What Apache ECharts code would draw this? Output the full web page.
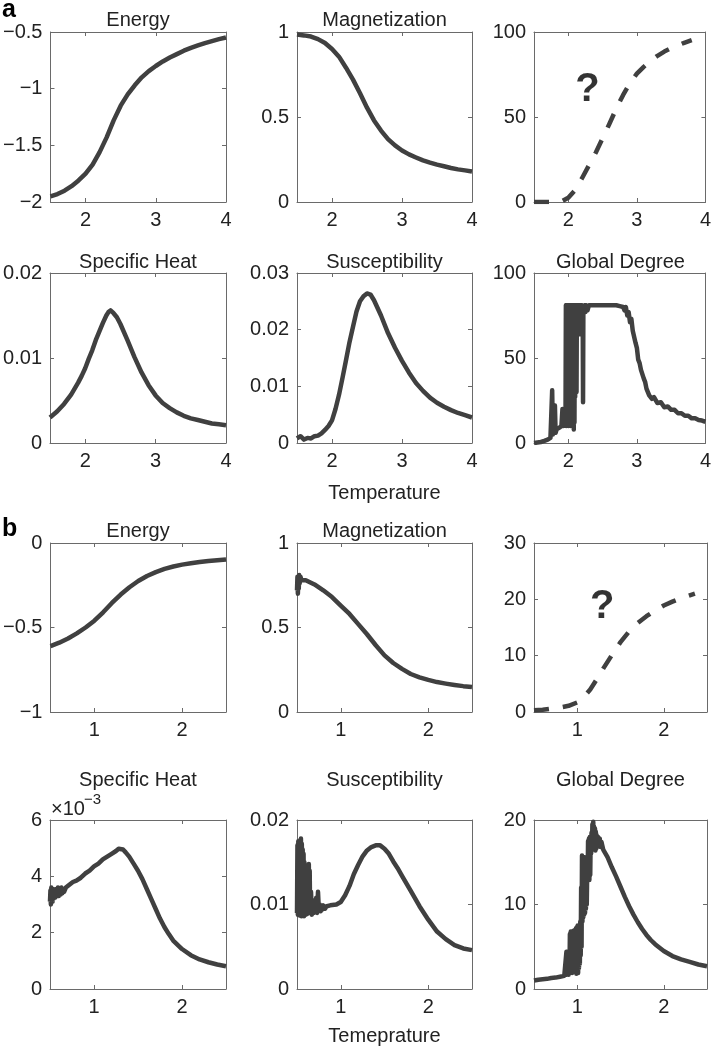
<!DOCTYPE html>
<html><head><meta charset="utf-8">
<script src="https://cdn.jsdelivr.net/npm/echarts@6/dist/echarts.min.js"></script>
<style>html,body{margin:0;padding:0;background:#fff}#c{width:714px;height:1050px}</style>
</head><body><div id="c"></div>
<script>
// ---------------- DATA ----------------
const ticksTa = [2, 3, 4];
const ticksTb = [1, 2];

const aEnergy = [[1.5,-1.95],[1.6,-1.93],[1.7,-1.90],[1.8,-1.86],[1.9,-1.81],[2.0,-1.75],[2.1,-1.67],[2.2,-1.56],[2.3,-1.43],[2.4,-1.28],[2.5,-1.15],[2.6,-1.05],[2.7,-0.97],[2.8,-0.90],[2.9,-0.845],[3.0,-0.80],[3.1,-0.76],[3.2,-0.725],[3.3,-0.695],[3.4,-0.665],[3.5,-0.64],[3.6,-0.618],[3.7,-0.598],[3.8,-0.58],[3.9,-0.563],[4.0,-0.548]];
const aEnergyTicks = [-2, -1.5, -1, -0.5];

const aMag = [[1.5,0.985],[1.6,0.98],[1.7,0.973],[1.8,0.958],[1.9,0.935],[2.0,0.90],[2.1,0.855],[2.2,0.79],[2.3,0.72],[2.4,0.64],[2.5,0.555],[2.6,0.48],[2.7,0.42],[2.8,0.37],[2.9,0.333],[3.0,0.303],[3.1,0.28],[3.2,0.262],[3.3,0.245],[3.4,0.232],[3.5,0.22],[3.6,0.21],[3.7,0.2],[3.8,0.192],[3.9,0.186],[4.0,0.18]];
const aMagTicks = [0, 0.5, 1];

const aUnknown = [[1.5,0],[1.6,0],[1.7,0],[1.8,0],[1.9,0.3],[2.0,2.5],[2.1,7],[2.2,14],[2.3,21.5],[2.4,29],[2.5,37.5],[2.6,46],[2.7,55],[2.8,63],[2.9,70],[3.0,75.5],[3.1,79.5],[3.2,83],[3.3,86],[3.4,88.5],[3.5,90.5],[3.6,92.2],[3.7,93.8],[3.8,95.2]];
const aUnknownTicks = [0, 50, 100];
const aUnknownMark = [[2.28, 66]];

const aHeat = [[1.5,0.0030],[1.6,0.0037],[1.7,0.0046],[1.8,0.0057],[1.9,0.0071],[1.95,0.0079],[2.0,0.0088],[2.05,0.0099],[2.1,0.0109],[2.15,0.0121],[2.2,0.0131],[2.25,0.0141],[2.3,0.0150],[2.33,0.0154],[2.36,0.0156],[2.4,0.0153],[2.45,0.0148],[2.5,0.0140],[2.6,0.0121],[2.7,0.0101],[2.8,0.0083],[2.9,0.0068],[3.0,0.0056],[3.1,0.0047],[3.2,0.0041],[3.3,0.0036],[3.4,0.0032],[3.5,0.0029],[3.6,0.0027],[3.7,0.0025],[3.8,0.0023],[3.9,0.0022],[4.0,0.0021]];
const aHeatTicks = [0, 0.01, 0.02];

const aSusc = [[1.5,0.0008],[1.55,0.0012],[1.6,0.0006],[1.65,0.0009],[1.7,0.0008],[1.75,0.0012],[1.8,0.0013],[1.85,0.0017],[1.9,0.0023],[1.95,0.0030],[2.0,0.0040],[2.05,0.0060],[2.1,0.0085],[2.15,0.0115],[2.2,0.0146],[2.25,0.0178],[2.3,0.0205],[2.35,0.0232],[2.4,0.0250],[2.45,0.0259],[2.5,0.0264],[2.55,0.0262],[2.6,0.0252],[2.7,0.0225],[2.8,0.0194],[2.9,0.0168],[3.0,0.0145],[3.1,0.0124],[3.2,0.0106],[3.3,0.0092],[3.4,0.0080],[3.5,0.0071],[3.6,0.0064],[3.7,0.0058],[3.8,0.0053],[3.9,0.0049],[4.0,0.0045]];
const aSuscTicks = [0, 0.01, 0.02, 0.03];

const aDegree = [[1.5,0],[1.55,0.3],[1.6,0.6],[1.65,1.2],[1.7,2],[1.74,3],[1.76,4],[1.765,31],[1.775,5],[1.79,5],[1.8,6],[1.805,22],[1.815,6],[1.83,8],[1.85,9],[1.87,9],[1.88,10],[1.89,9],[1.9,10],[1.91,11],[1.915,20],[1.925,10],[1.94,11],[1.955,12],[1.96,20],[1.965,81],[1.97,10],[1.975,81],[1.98,12],[1.985,81],[1.99,15],[1.995,81],[2.0,10],[2.005,81],[2.01,11],[2.015,81],[2.02,12],[2.025,81],[2.03,10],[2.035,80],[2.04,14],[2.045,81],[2.05,11],[2.055,81],[2.06,13],[2.065,81],[2.07,10],[2.075,81],[2.08,8],[2.085,81],[2.09,12],[2.095,81],[2.1,27],[2.105,81],[2.11,40],[2.115,81],[2.12,30],[2.125,81],[2.13,64],[2.14,81],[2.15,70],[2.16,81],[2.17,64],[2.18,81],[2.19,75],[2.2,81],[2.21,78],[2.215,24],[2.22,80],[2.23,78],[2.24,81],[2.25,77],[2.26,81],[2.28,78],[2.3,81],[2.4,81],[2.5,81],[2.6,81],[2.7,81],[2.75,80.5],[2.8,80],[2.82,78],[2.84,80],[2.86,75],[2.88,77],[2.9,71],[2.92,73],[2.94,66],[2.96,65],[2.98,59],[3.0,56],[3.02,49],[3.04,47],[3.06,43],[3.08,44],[3.1,38],[3.12,36],[3.14,32],[3.16,31],[3.18,28],[3.2,29],[3.22,26],[3.25,27],[3.3,23.5],[3.35,24],[3.4,21],[3.45,21.5],[3.5,19.5],[3.55,19.5],[3.6,17.5],[3.65,17.5],[3.7,16],[3.75,16],[3.8,14.5],[3.85,14.5],[3.9,13.5],[3.95,13.2],[4.0,12.5]];
const aDegreeTicks = [0, 50, 100];

const bEnergy = [[0.5,-0.61],[0.52,-0.603],[0.6,-0.59],[0.7,-0.565],[0.8,-0.535],[0.9,-0.50],[1.0,-0.46],[1.1,-0.41],[1.2,-0.355],[1.3,-0.305],[1.4,-0.262],[1.5,-0.225],[1.6,-0.195],[1.7,-0.172],[1.8,-0.153],[1.9,-0.139],[2.0,-0.128],[2.1,-0.12],[2.2,-0.113],[2.3,-0.107],[2.4,-0.102],[2.5,-0.098]];
const bEnergyTicks = [-1, -0.5, 0];

const bMag = [[0.5,0.72],[0.505,0.80],[0.51,0.70],[0.515,0.79],[0.52,0.73],[0.525,0.81],[0.53,0.76],[0.54,0.80],[0.55,0.78],[0.6,0.78],[0.7,0.755],[0.8,0.72],[0.9,0.68],[1.0,0.63],[1.1,0.58],[1.2,0.52],[1.3,0.46],[1.4,0.395],[1.5,0.335],[1.6,0.29],[1.7,0.255],[1.8,0.225],[1.9,0.205],[2.0,0.19],[2.1,0.177],[2.2,0.168],[2.3,0.16],[2.4,0.153],[2.5,0.148]];
const bMagTicks = [0, 0.5, 1];

const bUnknown = [[0.5,0.3],[0.6,0.4],[0.7,0.6],[0.8,0.8],[0.9,1.1],[1.0,1.7],[1.05,2.3],[1.1,3.1],[1.15,4.0],[1.2,5.2],[1.25,6.4],[1.3,7.7],[1.35,8.9],[1.4,10.1],[1.45,11.3],[1.5,12.4],[1.6,14.3],[1.7,15.8],[1.8,17.0],[1.9,18.0],[2.0,18.9],[2.1,19.6],[2.2,20.2],[2.3,20.7],[2.36,21.0]];
const bUnknownTicks = [0, 10, 20, 30];
const bUnknownMark = [[1.29, 18.6]];

const bHeat = [[0.5,0.0031],[0.505,0.0035],[0.51,0.0030],[0.515,0.0036],[0.52,0.0032],[0.525,0.0034],[0.53,0.0031],[0.535,0.00355],[0.54,0.0032],[0.55,0.0035],[0.56,0.00325],[0.57,0.00355],[0.58,0.0033],[0.59,0.0036],[0.6,0.0033],[0.61,0.00355],[0.62,0.00335],[0.63,0.0036],[0.64,0.0034],[0.65,0.00355],[0.66,0.00345],[0.68,0.0036],[0.7,0.00355],[0.72,0.0037],[0.74,0.00365],[0.76,0.0038],[0.78,0.00375],[0.8,0.00385],[0.85,0.00395],[0.9,0.0041],[0.95,0.0042],[1.0,0.00435],[1.05,0.00445],[1.1,0.0046],[1.15,0.0047],[1.2,0.0048],[1.25,0.0049],[1.28,0.00498],[1.3,0.0050],[1.33,0.00495],[1.36,0.00485],[1.4,0.0047],[1.45,0.00445],[1.5,0.0042],[1.55,0.0039],[1.6,0.00355],[1.65,0.0032],[1.7,0.00285],[1.75,0.0025],[1.8,0.0022],[1.85,0.00195],[1.9,0.00172],[2.0,0.00142],[2.1,0.0012],[2.2,0.00105],[2.3,0.00095],[2.4,0.00087],[2.5,0.00081]];
const bHeatTicks = [0, 0.002, 0.004, 0.006];

const bSusc = [[0.5,0.0090],[0.505,0.0170],[0.51,0.0088],[0.515,0.0175],[0.52,0.0092],[0.525,0.0168],[0.53,0.0087],[0.535,0.0176],[0.54,0.0090],[0.545,0.0178],[0.55,0.0086],[0.555,0.0172],[0.56,0.0090],[0.565,0.0165],[0.57,0.0088],[0.575,0.0160],[0.58,0.0086],[0.585,0.0150],[0.59,0.0090],[0.595,0.0140],[0.6,0.0088],[0.605,0.0145],[0.61,0.0092],[0.615,0.0130],[0.62,0.0089],[0.625,0.0138],[0.63,0.0090],[0.635,0.0148],[0.64,0.0094],[0.645,0.0140],[0.65,0.0090],[0.66,0.0115],[0.67,0.0088],[0.68,0.0105],[0.69,0.0090],[0.7,0.0100],[0.71,0.0092],[0.72,0.0108],[0.73,0.0090],[0.74,0.0115],[0.75,0.0093],[0.76,0.0100],[0.77,0.0092],[0.78,0.0098],[0.79,0.0094],[0.8,0.0099],[0.82,0.0095],[0.84,0.0098],[0.86,0.0096],[0.88,0.0099],[0.9,0.0097],[0.95,0.0100],[1.0,0.0103],[1.05,0.0111],[1.1,0.0122],[1.15,0.0136],[1.2,0.0147],[1.25,0.0157],[1.3,0.0164],[1.35,0.0168],[1.4,0.0170],[1.45,0.0170],[1.5,0.0166],[1.55,0.0160],[1.6,0.0151],[1.65,0.0143],[1.7,0.0134],[1.75,0.0125],[1.8,0.0116],[1.9,0.0098],[2.0,0.0082],[2.1,0.0068],[2.2,0.0059],[2.3,0.0052],[2.4,0.0048],[2.5,0.0046]];
const bSuscTicks = [0, 0.01, 0.02];

const bDegree = [[0.5,1.0],[0.55,1.1],[0.6,1.15],[0.65,1.2],[0.7,1.3],[0.75,1.35],[0.8,1.45],[0.85,1.55],[0.87,1.6],[0.875,4.4],[0.88,1.7],[0.885,4.2],[0.89,1.8],[0.895,4.4],[0.9,1.7],[0.905,4.3],[0.91,1.9],[0.915,6.5],[0.92,1.9],[0.925,6.8],[0.93,2.0],[0.935,6.6],[0.94,1.9],[0.945,6.7],[0.95,2.0],[0.955,6.9],[0.96,2.0],[0.965,6.5],[0.97,2.1],[0.975,7.0],[0.98,2.0],[0.985,7.2],[0.99,1.8],[0.995,7.3],[1.0,2.2],[1.005,7.5],[1.01,1.9],[1.015,7.0],[1.02,2.5],[1.025,7.4],[1.03,3.0],[1.035,8.0],[1.04,4.0],[1.045,12],[1.05,5.0],[1.055,15.8],[1.06,8.0],[1.065,15.5],[1.07,8.5],[1.075,15.2],[1.08,8.8],[1.085,15.6],[1.09,9.0],[1.095,15.3],[1.1,9.5],[1.105,15.0],[1.11,10],[1.115,14],[1.12,12.8],[1.125,17.5],[1.13,13],[1.135,17.8],[1.14,12.9],[1.145,18],[1.15,13.5],[1.155,17.6],[1.16,16],[1.165,18.5],[1.17,16.5],[1.175,19.5],[1.18,16.8],[1.185,19.8],[1.19,17],[1.195,19.2],[1.2,16.5],[1.205,19.0],[1.21,16.4],[1.215,18.6],[1.22,16.6],[1.225,18.2],[1.23,16.8],[1.24,18],[1.25,17.2],[1.26,17.8],[1.27,16.8],[1.28,17.4],[1.3,16.5],[1.35,15.6],[1.4,14.4],[1.45,13.3],[1.5,12.1],[1.55,10.9],[1.6,9.8],[1.65,8.8],[1.7,7.9],[1.75,7.1],[1.8,6.4],[1.85,5.8],[1.9,5.3],[2.0,4.5],[2.1,3.9],[2.2,3.5],[2.3,3.2],[2.4,2.9],[2.5,2.7]];
const bDegreeTicks = [0, 10, 20];

const titles = ['Energy','Magnetization','','Specific Heat','Susceptibility','Global Degree','Energy','Magnetization','','Specific Heat','Susceptibility','Global Degree'];
const xLabelA = 'Temperature';
const xLabelB = 'Temeprature';

// ---------------- PANEL SPECS ----------------
const panels = [
  {data:aEnergy, x:[1.5,4], xt:ticksTa, y:[-2,-0.5], yt:aEnergyTicks},
  {data:aMag, x:[1.5,4], xt:ticksTa, y:[0,1], yt:aMagTicks},
  {data:aUnknown, x:[1.5,4], xt:ticksTa, y:[0,100], yt:aUnknownTicks, dashed:true, mark:aUnknownMark},
  {data:aHeat, x:[1.5,4], xt:ticksTa, y:[0,0.02], yt:aHeatTicks},
  {data:aSusc, x:[1.5,4], xt:ticksTa, y:[0,0.03], yt:aSuscTicks},
  {data:aDegree, x:[1.5,4], xt:ticksTa, y:[0,100], yt:aDegreeTicks},
  {data:bEnergy, x:[0.5,2.5], xt:ticksTb, y:[-1,0], yt:bEnergyTicks},
  {data:bMag, x:[0.5,2.5], xt:ticksTb, y:[0,1], yt:bMagTicks},
  {data:bUnknown, x:[0.5,2.5], xt:ticksTb, y:[0,30], yt:bUnknownTicks, dashed:true, mark:bUnknownMark},
  {data:bHeat, x:[0.5,2.5], xt:ticksTb, y:[0,0.006], yt:bHeatTicks, milli:true},
  {data:bSusc, x:[0.5,2.5], xt:ticksTb, y:[0,0.02], yt:bSuscTicks},
  {data:bDegree, x:[0.5,2.5], xt:ticksTb, y:[0,20], yt:bDegreeTicks}
];

// ---------------- LAYOUT / STYLE ----------------
const FONT = '"Liberation Sans", Arial, Helvetica, sans-serif';
const COLS = [{left:50,width:176},{left:297,width:175},{left:534,width:173}];
const ROWS = [{top:32,height:170},{top:273,height:170},{top:543,height:169},{top:820,height:169}];
const TITLE_Y = [20.5, 262, 531.5, 780];
const AX = '#6a6a6a', TXT = '#222', LINE = '#404040';

function fmt(v){ return String(+(+v).toFixed(6)).replace('-', '\u2212'); }

const grid = [], xAxis = [], yAxis = [], series = [], graphic = [];
panels.forEach((p, i) => {
  const r = ROWS[Math.floor(i/3)], c = COLS[i%3];
  grid.push({left:c.left, top:r.top, width:c.width, height:r.height, containLabel:false});
  const axLine = {show:true, onZero:false, lineStyle:{color:AX, width:1}};
  const tick = (vals) => ({show:true, inside:true, length:4, customValues:vals, lineStyle:{color:AX, width:1}});
  const lbl = {fontSize:20, color:TXT, fontFamily:FONT, margin:8};
  xAxis.push({type:'value', gridIndex:i, position:'bottom', min:p.x[0], max:p.x[1],
    axisLine:axLine, axisTick:tick(p.xt), splitLine:{show:false},
    axisLabel:Object.assign({customValues:p.xt, formatter:fmt}, lbl)});
  xAxis.push({type:'value', gridIndex:i, position:'top', min:p.x[0], max:p.x[1],
    axisLine:axLine, axisTick:tick(p.xt), splitLine:{show:false}, axisLabel:{show:false}});
  yAxis.push({type:'value', gridIndex:i, position:'left', min:p.y[0], max:p.y[1],
    axisLine:axLine, axisTick:tick(p.yt), splitLine:{show:false},
    axisLabel:Object.assign({customValues:p.yt, formatter: p.milli ? (v => String(Math.round(v*1000))) : fmt}, lbl)});
  yAxis.push({type:'value', gridIndex:i, position:'right', min:p.y[0], max:p.y[1],
    axisLine:axLine, axisTick:tick(p.yt), splitLine:{show:false}, axisLabel:{show:false}});
  series.push({type:'line', xAxisIndex:2*i, yAxisIndex:2*i, data:p.data, symbol:'none', showSymbol:false,
    smooth: false, clip:true,
    lineStyle:{color:LINE, width:4.5, type: p.dashed ? [15,14] : 'solid', cap:'butt', join:'round'}});
  if (p.mark) {
    series.push({type:'scatter', xAxisIndex:2*i, yAxisIndex:2*i, data:p.mark, symbolSize:1,
      itemStyle:{color:'rgba(0,0,0,0)'},
      label:{show:true, position:'inside', formatter:'?', fontSize:40, fontWeight:'bold', color:'#000', fontFamily:FONT}});
  }
  if (titles[i]) {
    graphic.push({type:'text', x:c.left + c.width/2, y:TITLE_Y[Math.floor(i/3)],
      style:{text:titles[i], font:'20px '+FONT, fill:TXT, textAlign:'center', textVerticalAlign:'middle'}});
  }
});

graphic.push({type:'text', x:2, y:10, style:{text:'a', font:'bold 25px '+FONT, fill:'#000', textAlign:'left', textVerticalAlign:'middle'}});
graphic.push({type:'text', x:2, y:529.5, style:{text:'b', font:'bold 25px '+FONT, fill:'#000', textAlign:'left', textVerticalAlign:'middle'}});
graphic.push({type:'text', x:COLS[1].left + COLS[1].width/2, y:493.5, style:{text:xLabelA, font:'20px '+FONT, fill:TXT, textAlign:'center', textVerticalAlign:'middle'}});
graphic.push({type:'text', x:COLS[1].left + COLS[1].width/2, y:1036.5, style:{text:xLabelB, font:'20px '+FONT, fill:TXT, textAlign:'center', textVerticalAlign:'middle'}});
graphic.push({type:'text', x:51, y:809, style:{text:'\u00d710', font:'20px '+FONT, fill:TXT, textAlign:'left', textVerticalAlign:'middle'}});
graphic.push({type:'text', x:84, y:800, style:{text:'\u22123', font:'15px '+FONT, fill:TXT, textAlign:'left', textVerticalAlign:'middle'}});

const chart = echarts.init(document.getElementById('c'), null, {renderer:'canvas'});
chart.setOption({animation:false, backgroundColor:'#fff', grid, xAxis, yAxis, series, graphic});
</script></body></html>
